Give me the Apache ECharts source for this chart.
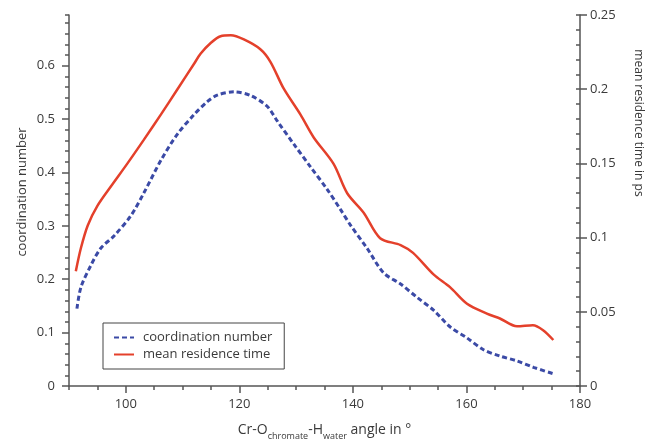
<!DOCTYPE html>
<html>
<head>
<meta charset="utf-8">
<script src="https://cdn.jsdelivr.net/npm/echarts@6/dist/echarts.min.js"></script>
<style>
html,body{margin:0;padding:0;background:#fff;}
#chart{width:650px;height:446px;}
</style>
</head>
<body>
<div id="chart"></div>
<script>
// Coordination number (left axis)
const cnAngles = [91.4, 92.1, 93.9, 95.6, 98.0, 100.9, 103.2, 106.2, 109.1, 112.0, 114.4, 116.1, 119.1, 122.0, 124.9, 126.7, 129.6, 132.5, 135.5, 137.8, 139.6, 142.5, 145.4, 148.4, 151.3, 154.2, 157.1, 160.1, 163.0, 165.9, 168.9, 171.8, 175.3];
const cnValues = [0.145, 0.185, 0.227, 0.258, 0.282, 0.319, 0.362, 0.423, 0.472, 0.508, 0.533, 0.545, 0.551, 0.544, 0.524, 0.496, 0.453, 0.411, 0.368, 0.331, 0.301, 0.258, 0.212, 0.191, 0.166, 0.142, 0.111, 0.090, 0.068, 0.056, 0.047, 0.035, 0.023];
// Mean residence time in ps (right axis)
const mrtAngles = [91.2, 92.1, 93.3, 95.0, 97.4, 100.3, 103.2, 106.2, 109.1, 112.0, 113.2, 115.0, 116.7, 118.5, 120.8, 123.7, 125.5, 127.8, 130.8, 133.1, 136.6, 139.0, 141.9, 144.8, 148.4, 150.6, 154.2, 157.1, 160.1, 163.6, 165.9, 168.9, 171.7, 173.5, 175.3];
const mrtValues = [0.0774, 0.0930, 0.1082, 0.1214, 0.1346, 0.1500, 0.1660, 0.1830, 0.2000, 0.2170, 0.2240, 0.2313, 0.2357, 0.2363, 0.2335, 0.2269, 0.2183, 0.2005, 0.1827, 0.1675, 0.1497, 0.1299, 0.1168, 0.0996, 0.0950, 0.0897, 0.0752, 0.0666, 0.0554, 0.0488, 0.0455, 0.0402, 0.0409, 0.0376, 0.0310];

const xTickLabels = [100, 120, 140, 160, 180];
const leftTickLabels = [0, 0.1, 0.2, 0.3, 0.4, 0.5, 0.6];
const seriesNames = ['coordination number', 'mean residence time'];

const FONT = 'Open Sans';
const AX = '#555';
const TXT = '#3a3a3a';

const chart = echarts.init(document.getElementById('chart'), null, {renderer: 'canvas'});
chart.setOption({
  animation: false,
  backgroundColor: '#fff',
  textStyle: {fontFamily: FONT},
  grid: {left: 69, right: 70, top: 15, bottom: 52},
  legend: {
    orient: 'vertical',
    left: 103, top: 323,
    padding: [8, 12, 8, 10],
    itemGap: 4,
    itemWidth: 20, itemHeight: 14,
    borderColor: '#444', borderWidth: 1,
    itemStyle: {opacity: 0},
    textStyle: {fontFamily: FONT, fontSize: 13, color: TXT, padding: [0, 0, 0, 4]},
    data: seriesNames
  },
  xAxis: [{
    type: 'value', min: 90, max: 180, interval: 10,
    axisLine: {show: true, lineStyle: {color: AX, width: 1.5}},
    axisTick: {show: true, length: 7, customValues: xTickLabels, lineStyle: {color: AX, width: 1.5}},
    axisLabel: {customValues: xTickLabels, fontSize: 13, color: TXT, margin: 12, fontFamily: FONT},
    splitLine: {show: false},
    name: '{a|Cr-O}{s|chromate}{a|-H}{s|water}{a| angle in °}',
    nameLocation: 'middle', nameGap: 33,
    nameTextStyle: {
      rich: {
        a: {fontSize: 14, color: TXT, fontFamily: FONT, lineHeight: 18, verticalAlign: 'bottom'},
        s: {fontSize: 9, color: TXT, fontFamily: FONT, lineHeight: 12, verticalAlign: 'bottom', padding: [0, 0, -4, 0]}
      }
    }
  }, {
    type: 'value', min: 90, max: 180, interval: 5, position: 'bottom',
    axisLine: {show: false},
    axisTick: {show: true, length: 4, lineStyle: {color: AX, width: 1.5}},
    axisLabel: {show: false},
    splitLine: {show: false}
  }],
  yAxis: [{
    type: 'value', min: 0, max: 0.695, interval: 0.1, position: 'left',
    axisLine: {show: true, lineStyle: {color: AX, width: 1.5}},
    axisTick: {show: true, length: 7, customValues: leftTickLabels, lineStyle: {color: AX, width: 1.5}},
    minorTick: {show: false},
    axisLabel: {customValues: leftTickLabels, fontSize: 13, color: TXT, margin: 14, fontFamily: FONT},
    splitLine: {show: false}
  }, {
    type: 'value', min: 0, max: 0.25, interval: 0.05, position: 'right',
    axisLine: {show: true, lineStyle: {color: AX, width: 1.5}},
    axisTick: {show: true, length: 7, lineStyle: {color: AX, width: 1.5}},
    axisLabel: {fontSize: 13, color: TXT, margin: 10, fontFamily: FONT},
    splitLine: {show: false}
  }, {
    type: 'value', min: 0, max: 0.695, interval: 0.02, position: 'left',
    axisLine: {show: false},
    axisTick: {show: true, length: 4, lineStyle: {color: AX, width: 1.5}},
    axisLabel: {show: false},
    splitLine: {show: false}
  }, {
    type: 'value', min: 0, max: 0.25, interval: 0.01, position: 'right',
    axisLine: {show: false},
    axisTick: {show: true, inside: true, length: 4, lineStyle: {color: AX, width: 1.5}},
    axisLabel: {show: false},
    splitLine: {show: false}
  }],
  graphic: [{
    type: 'text', x: 22, y: 192, rotation: Math.PI / 2,
    style: {text: 'coordination number', font: '13px "Open Sans"', fill: TXT, textAlign: 'center', textVerticalAlign: 'middle'}
  }, {
    type: 'text', x: 638, y: 123, rotation: -Math.PI / 2,
    style: {text: 'mean residence time in ps', font: '12px "Open Sans"', fill: TXT, textAlign: 'center', textVerticalAlign: 'middle'}
  }],
  series: [{
    name: seriesNames[0], type: 'line', yAxisIndex: 0, xAxisIndex: 0,
    data: cnAngles.map((a, i) => [a, cnValues[i]]),
    symbol: 'none', smooth: 0.3,
    lineStyle: {color: '#3b4aa6', width: 3, type: [5, 3]},
    itemStyle: {color: '#3b4aa6'}
  }, {
    name: seriesNames[1], type: 'line', yAxisIndex: 1, xAxisIndex: 0,
    data: mrtAngles.map((a, i) => [a, mrtValues[i]]),
    symbol: 'none', smooth: 0.3,
    lineStyle: {color: '#e4402b', width: 2.5},
    itemStyle: {color: '#e4402b'}
  }]
});
</script>
</body>
</html>
